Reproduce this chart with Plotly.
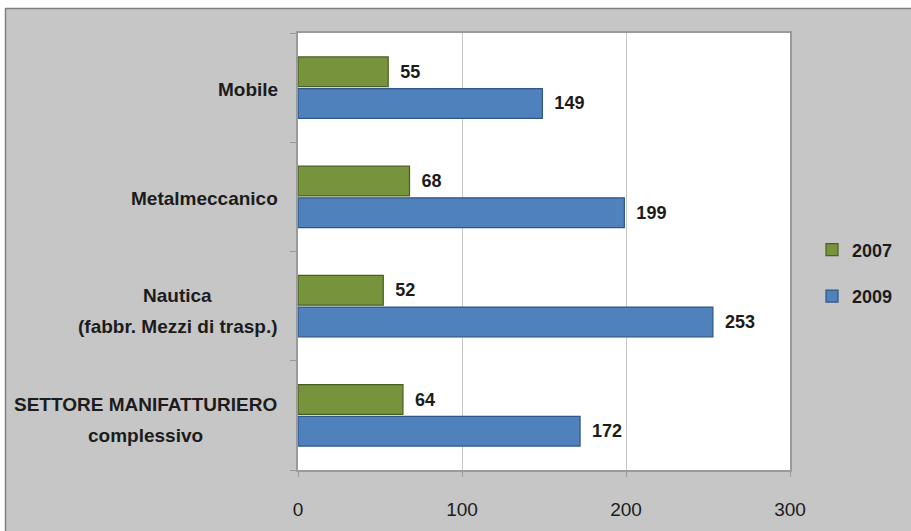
import plotly.graph_objects as go

# Categories listed bottom-to-top (first category sits at the bottom of a horizontal bar chart)
categories = [
    "SETTORE MANIFATTURIERO<br>complessivo",
    "Nautica<br>(fabbr. Mezzi di trasp.)",
    "Metalmeccanico",
    "Mobile",
]
values_2007 = [64, 52, 68, 55]
values_2009 = [172, 253, 199, 149]
x_ticks = [0, 100, 200, 300]

W, H = 911, 531
ML, MR, MT, MB = 298, 121, 33, 61
PW, PH = W - ML - MR, H - MT - MB

FONT = "Liberation Sans, Arial, sans-serif"
TXT = "#1c1c1c"
LABEL_SIZE = 19

# Advance widths (1/1000 em) of Liberation Sans Bold, used to centre wrapped lines
BOLD_WIDTHS = {
    " ": 278, "(": 333, ")": 333, ".": 278,
    "A": 722, "E": 667, "F": 611, "I": 278, "M": 833, "N": 722, "O": 778,
    "R": 722, "S": 667, "T": 611, "U": 722,
    "a": 556, "b": 611, "c": 556, "d": 611, "e": 556, "f": 333, "i": 278,
    "l": 278, "m": 889, "n": 611, "o": 611, "p": 611, "r": 389, "s": 556,
    "t": 333, "u": 611, "v": 556, "z": 500,
}

def text_width(s, size):
    return sum(BOLD_WIDTHS.get(ch, 600) for ch in s) * size / 1000.0

def px_x(p):
    return (p - ML) / PW

def px_y(p):
    return (H - MB - p) / PH

fig = go.Figure()

# 2009 added first so that it lands below 2007 inside each group
fig.add_trace(go.Bar(
    y=categories, x=values_2009, orientation="h", name="2009",
    legendgroup="b", legendrank=2,
    marker=dict(color="#4f81bd", line=dict(color="#2f5686", width=1.2)),
    text=values_2009, texttemplate="\u2002%{x}", textposition="outside",
    textfont=dict(family=FONT, size=18, color=TXT, weight="bold"), cliponaxis=False,
))
fig.add_trace(go.Bar(
    y=categories, x=values_2007, orientation="h", name="2007",
    legendgroup="a", legendrank=1,
    marker=dict(color="#77933c", line=dict(color="#4a5e22", width=1.2)),
    text=values_2007, texttemplate="\u2002%{x}", textposition="outside",
    textfont=dict(family=FONT, size=18, color=TXT, weight="bold"), cliponaxis=False,
))

# Category labels: right edge of the block at x=278 px, lines centred within it
LABEL_RIGHT = 278
LINE_STEP = 31
annotations = []
for c in categories:
    lines = c.split("<br>")
    n = len(lines)
    block_w = max(text_width(ln, LABEL_SIZE) for ln in lines)
    centre = LABEL_RIGHT - block_w / 2
    base = -2 if n == 1 else -5
    for i, line in enumerate(lines):
        annotations.append(dict(
            x=px_x(centre), xref="paper", y=c, yref="y", text=line,
            xanchor="center", yanchor="middle", showarrow=False,
            yshift=base + ((n - 1) / 2 - i) * LINE_STEP,
            font=dict(family=FONT, size=LABEL_SIZE, color=TXT, weight="bold"),
        ))

shapes = [
    # white margin strips around the grey frame
    dict(type="rect", xref="paper", yref="paper", x0=px_x(-5), x1=px_x(W + 5),
         y0=px_y(8), y1=px_y(-5), fillcolor="white", line=dict(width=0), layer="below"),
    dict(type="rect", xref="paper", yref="paper", x0=px_x(-5), x1=px_x(5),
         y0=px_y(H + 5), y1=px_y(-5), fillcolor="white", line=dict(width=0), layer="below"),
    # frame edges
    dict(type="line", xref="paper", yref="paper", x0=px_x(5), x1=px_x(W + 5),
         y0=px_y(8.5), y1=px_y(8.5), line=dict(color="#7f7f7f", width=1.5), layer="below"),
    dict(type="line", xref="paper", yref="paper", x0=px_x(5.5), x1=px_x(5.5),
         y0=px_y(8), y1=px_y(H + 5), line=dict(color="#7f7f7f", width=1.5), layer="below"),
]

fig.update_layout(
    width=W, height=H,
    margin=dict(l=ML, r=MR, t=MT, b=MB),
    paper_bgcolor="#c6c6c6", plot_bgcolor="white",
    barmode="group", bargap=0.42, bargroupgap=0.06,
    font=dict(family=FONT, color=TXT),
    showlegend=True,
    legend=dict(
        x=px_x(812), xanchor="left", y=px_y(273), yanchor="middle",
        traceorder="grouped", tracegroupgap=20,
        bgcolor="rgba(0,0,0,0)",
        font=dict(family=FONT, size=18, color=TXT, weight="bold"),
    ),
    annotations=annotations,
    shapes=shapes,
)

fig.update_xaxes(
    range=[0, 300], tickvals=x_ticks, ticktext=[str(v) for v in x_ticks],
    showgrid=True, gridcolor="#c8c8c8", gridwidth=1,
    showline=True, linecolor="#9a9a9a", linewidth=1.5, mirror=True,
    ticks="outside", ticklen=5, tickcolor="#9a9a9a", ticklabelstandoff=16,
    tickfont=dict(family=FONT, size=19, color=TXT),
    zeroline=False, fixedrange=True,
)
fig.update_yaxes(
    type="category", showticklabels=False,
    tickson="boundaries", ticks="outside", ticklen=6, tickcolor="#9a9a9a",
    showgrid=False,
    showline=True, linecolor="#9a9a9a", linewidth=1.5, mirror=True,
    fixedrange=True,
)

fig.write_html("out.html")
